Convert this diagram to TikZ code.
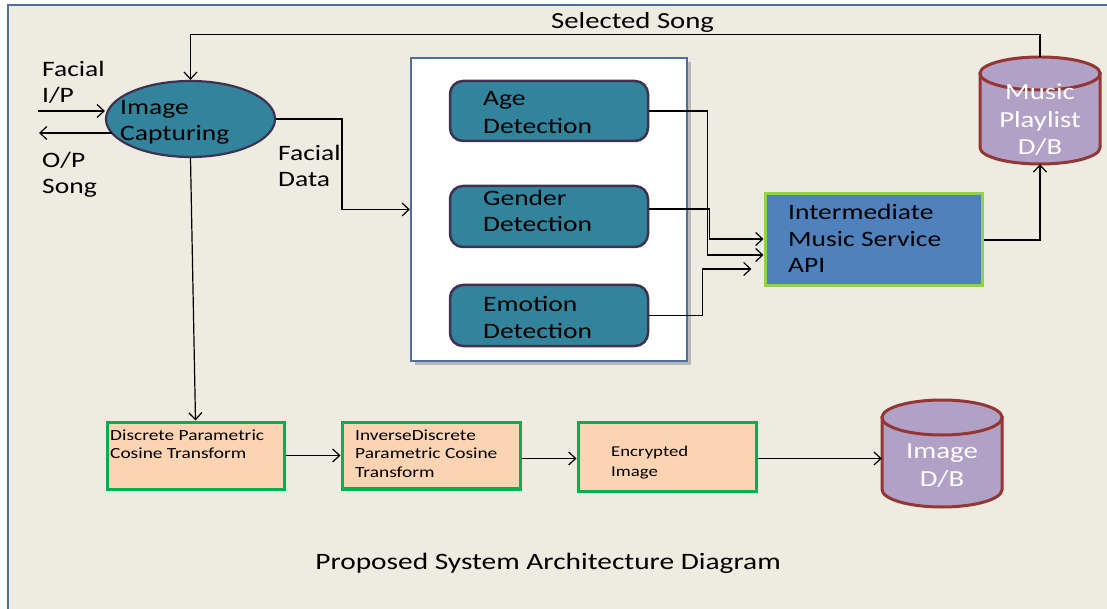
\documentclass[tikz,border=0pt]{standalone}
\usepackage{fontspec}
\setmainfont{Carlito}[FakeStretch=1.25]
\usetikzlibrary{shapes.geometric,arrows.meta,calc}
\definecolor{bg}{HTML}{EEEBE0}
\definecolor{frameblue}{HTML}{4E6E9E}
\definecolor{teal}{HTML}{31849B}
\definecolor{dpurple}{HTML}{3F3151}
\definecolor{apiblue}{HTML}{4F81BD}
\definecolor{lgreen}{HTML}{92D050}
\definecolor{lilac}{HTML}{B2A1C7}
\definecolor{dred}{HTML}{943634}
\definecolor{peach}{HTML}{FBD4B4}
\definecolor{dgreen}{HTML}{00B050}
\begin{document}
\begin{tikzpicture}[x=1pt,y=-1pt,
  arr/.style={draw=black, line width=1.2pt, -{Straight Barb[length=7pt,width=13pt,line width=1.2pt]}},
  lbl/.style={anchor=base west, inner sep=0pt, font=\fontsize{22}{26}\selectfont},
  clbl/.style={anchor=base, inner sep=0pt, text=white, font=\fontsize{23}{27}\selectfont},
  slbl/.style={anchor=base west, inner sep=0pt, font=\fontsize{15.5}{18}\selectfont},
  detbox/.style={draw=dpurple, fill=teal, line width=2.5pt, rounded corners=13pt, minimum width=198pt, inner sep=0pt},
  pbox/.style={draw=dgreen, fill=peach, line width=3pt, minimum height=67pt, inner sep=0pt},
  ghost/.style={inner sep=0pt, minimum width=120pt, minimum height=107pt}
]
\useasboundingbox (0,0) rectangle (1107,609);
\fill[white] (0,0) rectangle (1107,609);
\filldraw[fill=bg, draw=frameblue, line width=2.5pt] (8,5) rectangle (1125,630);

% Image capturing ellipse
\node[ellipse, draw=dpurple, fill=teal, line width=2.2pt, minimum width=169pt, minimum height=76pt, inner sep=0pt] (ic) at (190.5,119) {};
\node[lbl] (ict1) at (120,115) {Image};
\node[lbl] (ict2) at (120,141) {Capturing};

% left labels
\node[lbl] (fi1) at (42,77) {Facial};
\node[lbl] (fi2) at (42,103) {I/P};
\node[lbl] (op1) at (42,168) {O/P};
\node[lbl] (op2) at (42,194) {Song};
\node[lbl] (fd1) at (278,161) {Facial};
\node[lbl] (fd2) at (278,187) {Data};
\node[anchor=base west, inner sep=0pt, font=\fontsize{23}{27}\selectfont] (sel) at (551,29) {Selected Song};

% big white box with shadow
\fill[gray!55] (415,62) rectangle (691,365);
\node[draw=frameblue, fill=white, line width=2.2pt, minimum width=276pt, minimum height=303pt, inner sep=0pt] (big) at (549,209.5) {};
\node[detbox, minimum height=60pt] (age) at (549,111) {};
\node[detbox, minimum height=61pt] (gen) at (549,216.5) {};
\node[detbox, minimum height=61pt] (emo) at (549,315.5) {};
\node[lbl] (at1) at (483,106) {Age};
\node[lbl] (at2) at (483,134) {Detection};
\node[lbl] (gt1) at (483,206) {Gender};
\node[lbl] (gt2) at (483,232) {Detection};
\node[lbl] (et1) at (483,311) {Emotion};
\node[lbl] (et2) at (483,338) {Detection};

% API box
\node[draw=lgreen, fill=apiblue, line width=3pt, minimum width=217pt, minimum height=92pt, inner sep=0pt] (api) at (873.5,240) {};
\node[lbl] (apt1) at (788,220) {Intermediate};
\node[lbl] (apt2) at (788,247) {Music Service};
\node[lbl] (apt3) at (788,273) {API};

% Music playlist cylinder
\node[ghost] (mdb) at (1040,110.5) {};
\filldraw[fill=lilac, draw=dred, line width=3pt] (980,73.5) -- (980,147.5) arc[start angle=180, end angle=0, x radius=60, y radius=16.5] -- (1100,73.5) -- cycle;
\filldraw[fill=lilac, draw=dred, line width=3pt] (1040,73.5) ellipse [x radius=60, y radius=16.5];
\node[clbl] (mt1) at (1040,100) {Music};
\node[clbl] (mt2) at (1040,128) {Playlist};
\node[clbl] (mt3) at (1040,155) {D/B};

% bottom boxes
\node[pbox, minimum width=177pt] (dpct) at (195.5,455.5) {};
\node[slbl] (dt1) at (110,440) {Discrete Parametric};
\node[slbl] (dt2) at (110,458) {Cosine Transform};
\node[pbox, minimum width=178pt] (idpct) at (431,455.5) {};
\draw[dgreen, line width=0.8pt] ($(idpct.south west)+(1.5,-3.5)$) -- ($(idpct.south east)+(-1.5,-3.5)$);
\node[slbl] (it1) at (355,440) {InverseDiscrete};
\node[slbl] (it2) at (355,458) {Parametric Cosine};
\node[slbl] (it3) at (355,477) {Transform};
\node[pbox, minimum width=178pt, minimum height=69pt] (enc) at (667,456.5) {};
\node[anchor=base west, inner sep=0pt, font=\fontsize{15}{18}\selectfont] (en1) at (611,456) {Encrypted};
\node[anchor=base west, inner sep=0pt, font=\fontsize{15}{18}\selectfont] (en2) at (611,476) {Image};

% Image DB cylinder
\node[ghost] (idb) at (942,453.5) {};
\filldraw[fill=lilac, draw=dred, line width=3pt] (882,417.5) -- (882,489.5) arc[start angle=180, end angle=0, x radius=60, y radius=17.5] -- (1002,417.5) -- cycle;
\filldraw[fill=lilac, draw=dred, line width=3pt] (942,417.5) ellipse [x radius=60, y radius=17.5];
\node[clbl] (idt1) at (942,458) {Image};
\node[clbl] (idt2) at (942,486) {D/B};

% caption
\node[anchor=base, inner sep=0pt, font=\fontsize{23.5}{28}\selectfont] (cap) at (548,569) {Proposed System Architecture Diagram};

% connectors
\coordinate (fin) at (38,111);
\coordinate (fout) at (39,133);
\draw[arr] (fin) -- (fin -| ic.west);
\draw[arr] ($(fout -| ic.west)+(7,0)$) -- (fout);
\draw[arr] (mdb.north) -- ++(0,-22) -| (ic.north);
\draw[arr] (ic.east) -| ($(big.west)+(-68,0)$) -- (big.west);
\draw[arr] (ic.south) -- (dpct.north);
\draw[arr] (age.east) -- ++(58,0) |- ($(api.west)+(0,15)$);
\draw[arr] ($(gen.east)+(0,-7.5)$) -- ++(60,0) |- ($(api.west)+(0,-1)$);
\draw[arr] (emo.east) -- ++(53,0) |- ($(api.west)+(-12,29)$);
\draw[arr] (api.east) -| (mdb.south);
\draw[arr] (dpct.east) -- (idpct.west);
\draw[arr] ($(idpct.east)+(0,3)$) -- ($(enc.west)+(0,2)$);
\draw[arr] ($(enc.east)+(0,2)$) -- ($(idb.west)+(0,5)$);
\end{tikzpicture}
\end{document}
